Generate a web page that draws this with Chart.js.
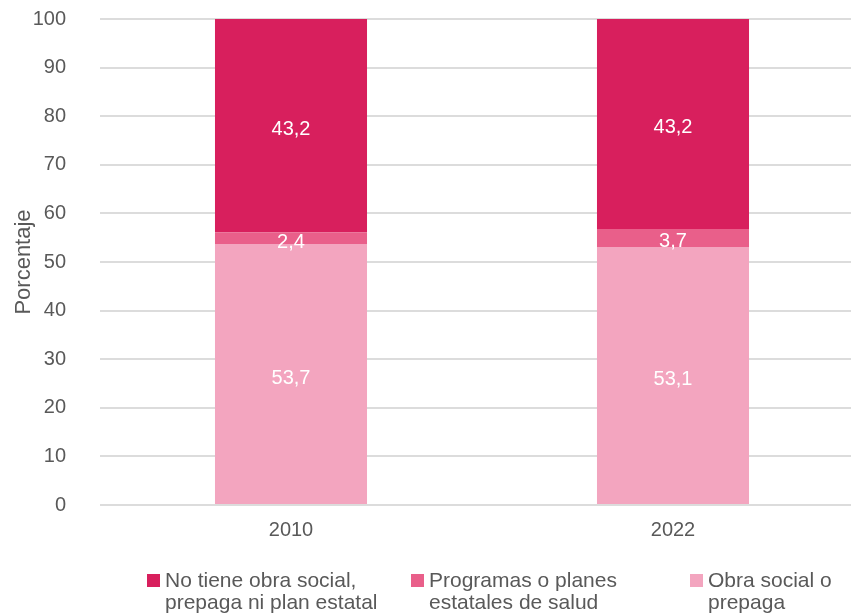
<!DOCTYPE html>
<html>
<head>
<meta charset="utf-8">
<script src="https://cdn.jsdelivr.net/npm/chart.js@4.4.1/dist/chart.umd.min.js"></script>
<style>
  html, body { margin:0; padding:0; background:#fff; }
  #wrap { position:relative; width:851px; height:615px; overflow:hidden; }
  #c { position:absolute; left:0; top:-27px; }
  .leg { position:absolute; top:569px; font-family:"Liberation Sans", Arial, sans-serif; font-size:21px; line-height:22px; color:#595959; white-space:nowrap; }
  .sw { position:absolute; width:13px; height:13px; top:5px; left:0; }
  .lt { margin-left:18px; }
</style>
</head>
<body>
<div id="wrap">
  <canvas id="c" width="864" height="642"></canvas>
  <div id="legend"></div>
</div>
<script>
const categories = ["2010", "2022"];
const seriesNames = [
  ["No tiene obra social,", "prepaga ni plan estatal"],
  ["Programas o planes", "estatales de salud"],
  ["Obra social o", "prepaga"]
];
const obraSocial = [53.7, 53.1];
const programas = [2.4, 3.7];
const noTiene = [43.9, 43.2];
const obraSocialLabels = ["53,7", "53,1"];
const programasLabels = ["2,4", "3,7"];
const noTieneLabels = ["43,2", "43,2"];
const yTicks = [0, 10, 20, 30, 40, 50, 60, 70, 80, 90, 100];

const colors = { dark: "#D81F5D", mid: "#E95F8A", light: "#F3A5BF" };
const FONT = "'Liberation Sans', Arial, sans-serif";
const TXT = "#595959";

const valueLabels = {
  id: "valueLabels",
  afterDatasetsDraw(chart) {
    const ctx = chart.ctx;
    ctx.save();
    ctx.fillStyle = "#ffffff";
    ctx.font = "20px " + FONT;
    ctx.textAlign = "center";
    ctx.textBaseline = "middle";
    chart.data.datasets.forEach((ds, di) => {
      const meta = chart.getDatasetMeta(di);
      meta.data.forEach((bar, i) => {
        const y = (bar.y + bar.base) / 2 + 4;
        ctx.fillText(ds.valueText[i], bar.x, y);
      });
    });
    ctx.restore();
  }
};

new Chart(document.getElementById("c"), {
  type: "bar",
  data: {
    labels: categories,
    datasets: [
      { label: seriesNames[2].join(" "), data: obraSocial, valueText: obraSocialLabels, backgroundColor: colors.light },
      { label: seriesNames[1].join(" "), data: programas, valueText: programasLabels, backgroundColor: colors.mid },
      { label: seriesNames[0].join(" "), data: noTiene, valueText: noTieneLabels, backgroundColor: colors.dark }
    ]
  },
  options: {
    responsive: false,
    animation: false,
    layout: { padding: { top: 0, bottom: 68, left: 0, right: 0 } },
    datasets: { bar: { categoryPercentage: 1, barPercentage: 0.398, borderWidth: 0 } },
    plugins: { legend: { display: false }, tooltip: { enabled: false } },
    scales: {
      x: {
        stacked: true,
        grid: { display: false },
        border: { display: false },
        ticks: { color: TXT, font: { family: FONT, size: 20 }, padding: 5 }
      },
      y: {
        stacked: true,
        min: 0, max: 100,
        afterFit(s) { s.width = 100; },
        afterBuildTicks(s) { s.ticks = yTicks.map(v => ({ value: v })); },
        grid: { color: "#dcdcdc", lineWidth: 2, drawTicks: false },
        border: { display: false },
        ticks: { color: TXT, font: { family: FONT, size: 20 }, padding: 34 },
        title: { display: true, text: "Porcentaje", color: TXT, font: { family: FONT, size: 22 }, padding: { top: 11, bottom: 0 } }
      }
    }
  },
  plugins: [valueLabels]
});

const legendPos = [147, 411, 690];
const legendColors = [colors.dark, colors.mid, colors.light];
const lg = document.getElementById("legend");
seriesNames.forEach((lines, i) => {
  const d = document.createElement("div");
  d.className = "leg";
  d.style.left = legendPos[i] + "px";
  const sw = document.createElement("div");
  sw.className = "sw";
  sw.style.background = legendColors[i];
  d.appendChild(sw);
  const t = document.createElement("div");
  t.className = "lt";
  t.innerHTML = lines.join("<br>");
  d.appendChild(t);
  lg.appendChild(d);
});
</script>
</body>
</html>
